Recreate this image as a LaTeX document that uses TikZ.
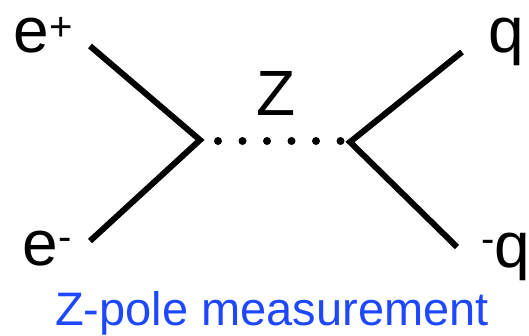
\documentclass[tikz,border=0pt]{standalone}
\usepackage{fontspec}
\setmainfont{Liberation Sans}
\usetikzlibrary{positioning}
\definecolor{capblue}{HTML}{1E48FF}
\newcommand{\chsup}[2]{{\fontsize{40}{40}\selectfont\raisebox{#1}{#2}}}

\begin{document}
\begin{tikzpicture}[
  x=1pt, y=-1pt,
  leg/.style={draw=black, line width=6pt},
  prop/.style={draw=black, line width=8pt, line cap=round, dash pattern=on 0pt off 24.5pt},
  plab/.style={font=\fontsize{64}{64}\selectfont, inner sep=0pt, anchor=base west},
  caplab/.style={font=\fontsize{47}{47}\selectfont, text=capblue, inner sep=0pt, anchor=base}
]
\useasboundingbox (0,0) rectangle (529,335);
% vertices and outer ends
\coordinate (vl) at (200,140);
\coordinate (vr) at (350,142);
\coordinate (ep) at (90,46);
\coordinate (em) at (90,241);
\coordinate (qq) at (462,52);
\coordinate (qb) at (457,247);
\coordinate (zs) at (218,141);
\coordinate (ze) at (341,141);
\draw[leg] (ep) -- (vl) -- (em);
\draw[leg] (qq) -- (vr) -- (qb);
\draw[prop] (zs) -- (ze);
% labels
\node[plab] (lep) at (13.5,52) {e\chsup{12pt}{+}};
\node[plab] (lem) at (22.5,265) {e\chsup{15pt}{-}};
\node[plab] (lqq) at (488,52) {q};
\node[plab] (lqb) at (481,267) {\chsup{15pt}{-}q};
\node[plab, anchor=base] (lz) at (276,115) {Z};
\node[caplab] (cap) at (272,325) {Z-pole measurement};
\end{tikzpicture}
\end{document}
